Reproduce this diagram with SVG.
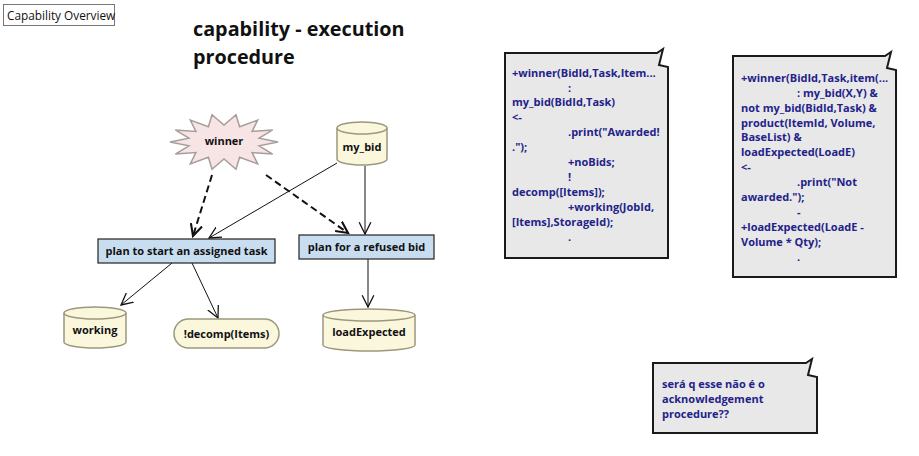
<svg xmlns="http://www.w3.org/2000/svg" width="919" height="456" viewBox="0 0 919 456">
<defs>
<style>
text{font-family:"Open Sans","Noto Sans","DejaVu Sans",sans-serif}
.lbl{font-size:11px;font-weight:bold;fill:#111;text-anchor:middle}
.note{fill:#e8e8e8;stroke:#1a1a1a;stroke-width:2}
.nt{font-size:11px;font-weight:bold;fill:#22228a}
.cyl{fill:#fbf7dd;stroke:#9c987c;stroke-width:1.5}
.plan{fill:#c9ddf0;stroke:#222;stroke-width:1.2}
.e{fill:none;stroke:#111;stroke-width:1}
.d{fill:none;stroke:#111;stroke-width:2;stroke-dasharray:7,4}
</style>
<marker id="a" markerUnits="userSpaceOnUse" markerWidth="14" markerHeight="14" refX="10" refY="5" orient="auto" viewBox="0 0 12 10">
<path d="M0,0 L10,5 L0,10" fill="none" stroke="#111" stroke-width="1.1"/>
</marker>
<marker id="ad" markerUnits="userSpaceOnUse" markerWidth="14" markerHeight="14" refX="10" refY="5" orient="auto" viewBox="0 0 12 10">
<path d="M0,0 L10,5 L0,10" fill="none" stroke="#111" stroke-width="1.8"/>
</marker>
</defs>
<rect width="919" height="456" fill="#fff"/>

<g id="frame-label">
<rect x="3.5" y="4.5" width="111" height="21" fill="#fff" stroke="#777"/>
<text x="7" y="19.5" font-size="11.8" fill="#111">Capability Overview</text>
</g>

<g id="title">
<text x="193" y="36" font-size="19.8" font-weight="bold" fill="#111">capability - execution</text>
<text x="193" y="64" font-size="19.8" font-weight="bold" fill="#111">procedure</text>
</g>

<g id="connectors">
<line class="d" x1="212" y1="175" x2="193" y2="236" marker-end="url(#ad)"/>
<line class="d" x1="266" y1="175" x2="348" y2="233" marker-end="url(#ad)"/>
<line class="e" x1="337" y1="163" x2="209" y2="238" marker-end="url(#a)"/>
<line class="e" x1="365" y1="166" x2="365" y2="234" marker-end="url(#a)"/>
<line class="e" x1="172" y1="263" x2="121" y2="305" marker-end="url(#a)"/>
<line class="e" x1="192" y1="263" x2="218" y2="318" marker-end="url(#a)"/>
<line class="e" x1="368" y1="259" x2="368" y2="307" marker-end="url(#a)"/>
</g>

<g id="winner">
<polygon points="278,142 259.1,145.8 272.7,154.1 252.1,152.6 257.7,163.9 239.6,157.3 236,169.3 224,159 212,169.3 208.4,157.3 190.3,163.9 195.9,152.6 175.3,154.1 188.9,145.8 170,142 188.9,138.2 175.3,129.9 195.9,131.4 190.3,120.1 208.4,126.7 212,114.7 224,125 236,114.7 239.6,126.7 257.7,120.1 252.1,131.4 272.7,129.9 259.1,138.2" fill="#f7e4e4" stroke="#a89c9c" stroke-width="1.5"/>
<text class="lbl" x="224" y="145">winner</text>
</g>

<g id="my_bid">
<path class="cyl" d="M337,128 a25,6 0 0 1 50,0 v31 a25,6 0 0 1 -50,0 z"/>
<path class="cyl" fill="none" d="M337,128 a25,6 0 0 0 50,0"/>
<text class="lbl" x="362" y="151">my_bid</text>
</g>

<g id="plan-assigned">
<rect class="plan" x="98" y="239" width="177" height="24"/>
<text class="lbl" x="186.5" y="255">plan to start an assigned task</text>
</g>

<g id="plan-refused">
<rect class="plan" x="299" y="235" width="135" height="24"/>
<text class="lbl" x="366.5" y="251">plan for a refused bid</text>
</g>

<g id="working">
<path class="cyl" d="M64,313 a31,6 0 0 1 62,0 v29 a31,6 0 0 1 -62,0 z"/>
<path class="cyl" fill="none" d="M64,313 a31,6 0 0 0 62,0"/>
<text class="lbl" x="95" y="334">working</text>
</g>

<g id="decomp">
<rect class="cyl" x="174" y="319" width="105" height="29" rx="14.5"/>
<text class="lbl" x="226.5" y="338">!decomp(Items)</text>
</g>

<g id="loadExpected">
<path class="cyl" d="M323,315 a46,6 0 0 1 92,0 v30 a46,6 0 0 1 -92,0 z"/>
<path class="cyl" fill="none" d="M323,315 a46,6 0 0 0 92,0"/>
<text class="lbl" x="369" y="336">loadExpected</text>
</g>

<g id="note-awarded">
<path class="note" d="M505,53 H657 L663,49 L659,65 L668,67 V258 H505 Z"/>
<text class="nt" x="512" y="77">+winner(BidId,Task,Item...</text>
<text class="nt" x="568" y="92">:</text>
<text class="nt" x="512" y="106">my_bid(BidId,Task)</text>
<text class="nt" x="512" y="121">&lt;-</text>
<text class="nt" x="568" y="136">.print("Awarded!</text>
<text class="nt" x="512" y="151">.");</text>
<text class="nt" x="568" y="166">+noBids;</text>
<text class="nt" x="568" y="181">!</text>
<text class="nt" x="512" y="196">decomp([Items]);</text>
<text class="nt" x="568" y="211">+working(JobId,</text>
<text class="nt" x="512" y="226">[Items],StorageId);</text>
<text class="nt" x="568" y="241">.</text>
</g>

<g id="note-not-awarded">
<path class="note" d="M733,56 H885 L891,52 L887,68 L896,70 V277 H733 Z"/>
<text class="nt" x="741" y="82">+winner(BidId,Task,item(...</text>
<text class="nt" x="797" y="97">: my_bid(X,Y) &amp;</text>
<text class="nt" x="741" y="112">not my_bid(BidId,Task) &amp;</text>
<text class="nt" x="741" y="127">product(ItemId, Volume,</text>
<text class="nt" x="741" y="141">BaseList) &amp;</text>
<text class="nt" x="741" y="156">loadExpected(LoadE)</text>
<text class="nt" x="741" y="171">&lt;-</text>
<text class="nt" x="797" y="186">.print("Not</text>
<text class="nt" x="741" y="201">awarded.");</text>
<text class="nt" x="797" y="216">-</text>
<text class="nt" x="741" y="231">+loadExpected(LoadE -</text>
<text class="nt" x="741" y="246">Volume * Qty);</text>
<text class="nt" x="797" y="261">.</text>
</g>

<g id="note-question">
<path class="note" d="M653,363 H806 L812,359 L808,375 L817,377 V433 H653 Z"/>
<text class="nt" x="662" y="388">será q esse não é o</text>
<text class="nt" x="662" y="403">acknowledgement</text>
<text class="nt" x="662" y="418">procedure??</text>
</g>
</svg>
